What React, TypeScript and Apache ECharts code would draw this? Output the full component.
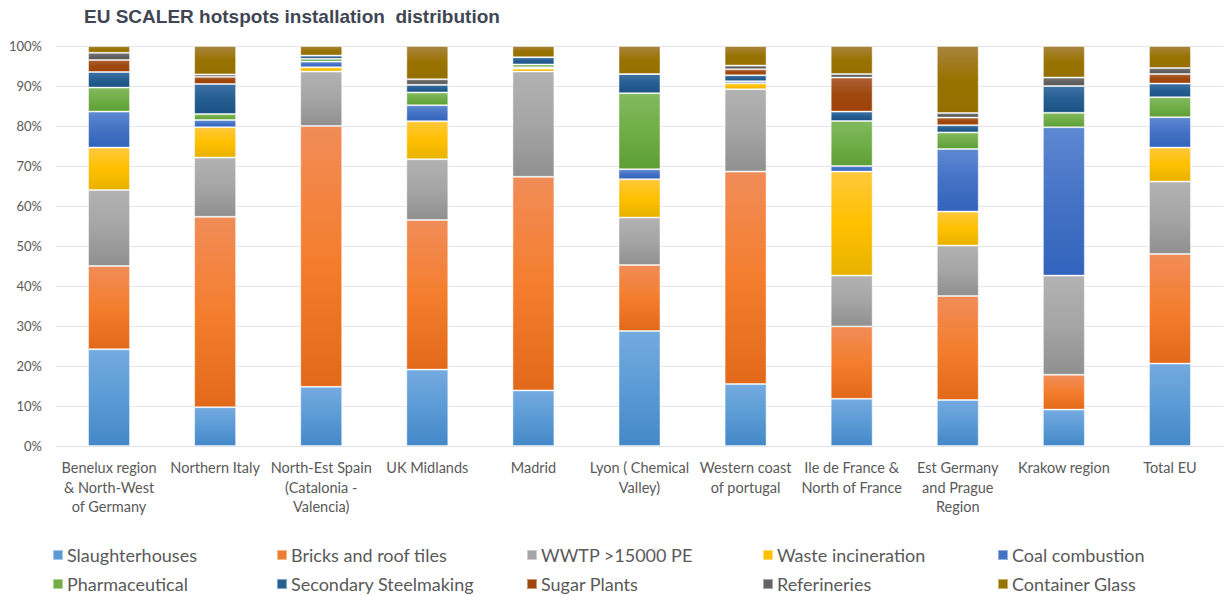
import React, { useEffect, useRef } from "react";
import * as echarts from "echarts";

const categories = [
  "Benelux region\n& North-West\nof Germany",
  "Northern Italy",
  "North-Est Spain\n(Catalonia -\nValencia)",
  "UK Midlands",
  "Madrid",
  "Lyon ( Chemical\nValley)",
  "Western coast\nof portugal",
  "Ile de France &\nNorth of France",
  "Est Germany\nand Prague\nRegion",
  "Krakow region",
  "Total EU",
];

const yTicks = [0, 10, 20, 30, 40, 50, 60, 70, 80, 90, 100];

const slaughterhouses = [24.2, 9.7, 14.8, 19.1, 13.9, 28.75, 15.5, 11.8, 11.5, 9.1, 20.6];
const bricksRoofTiles = [20.8, 47.6, 65.2, 37.4, 53.4, 16.5, 53.1, 18.1, 26.0, 8.7, 27.4];
const wwtp = [19.0, 14.8, 13.6, 15.2, 26.3, 11.85, 20.6, 12.7, 12.6, 24.8, 18.1];
const wasteIncineration = [10.6, 7.6, 1.1, 9.5, 0.8, 9.6, 1.5, 26.0, 8.5, 0, 8.5];
const coalCombustion = [9.0, 1.8, 1.4, 4.0, 0.3, 2.5, 0.5, 1.4, 15.65, 37.1, 7.6];
const pharmaceutical = [6.0, 1.5, 0.7, 3.2, 0.7, 19.0, 0, 11.25, 4.15, 3.6, 5.0];
const secondarySteelmaking = [3.9, 7.5, 0.8, 1.9, 1.8, 4.8, 1.5, 2.35, 1.8, 6.7, 3.4];
const sugarPlants = [3.0, 1.8, 0, 0, 0, 0, 1.5, 8.5, 1.9, 0, 2.4];
const refineries = [1.8, 0.6, 0, 1.4, 0, 0, 0.9, 0.9, 1.15, 2.1, 1.5];
const containerGlass = [1.7, 7.1, 2.4, 8.3, 2.8, 7.0, 4.9, 7.0, 16.75, 7.9, 5.5];

const seriesNames = [
  "Slaughterhouses",
  "Bricks and roof tiles",
  "WWTP >15000 PE",
  "Waste incineration",
  "Coal combustion",
  "Pharmaceutical",
  "Secondary Steelmaking",
  "Sugar Plants",
  "Referineries",
  "Container Glass",
];

const seriesValues = [
  slaughterhouses,
  bricksRoofTiles,
  wwtp,
  wasteIncineration,
  coalCombustion,
  pharmaceutical,
  secondarySteelmaking,
  sugarPlants,
  refineries,
  containerGlass,
];

// [top, middle, bottom, legend]
const palette = [
  ["#74aae0", "#5b9bd5", "#4488c8", "#5b9bd5"],
  ["#f18c58", "#f47e2e", "#e2691a", "#ed7d31"],
  ["#b2b2b2", "#a5a5a5", "#909090", "#a5a5a5"],
  ["#ffc83a", "#ffc000", "#e8b200", "#ffc000"],
  ["#5d88d2", "#4472c4", "#3264bd", "#4472c4"],
  ["#82b95e", "#70ad47", "#5e9f36", "#70ad47"],
  ["#3e71a3", "#255e91", "#1a5285", "#255e91"],
  ["#ad6035", "#9e480e", "#a0420a", "#9e480e"],
  ["#727272", "#636363", "#575757", "#636363"],
  ["#a8843e", "#997300", "#946f00", "#997300"],
];

const legendPos = [
  [52, 546], [276, 546], [526, 546], [762, 546], [997, 546],
  [52, 575], [276, 575], [526, 575], [762, 575], [997, 575],
];

export default function App() {
  const ref = useRef<HTMLDivElement>(null);
  useEffect(() => {
    if (!ref.current) return;
    const chart = echarts.init(ref.current, null, { renderer: "svg" });
    const series = seriesNames.map((name, i) => ({
      name,
      type: "bar",
      stack: "total",
      barWidth: 42,
      data: seriesValues[i],
      itemStyle: {
        color: new echarts.graphic.LinearGradient(0, 0, 0, 1, [
          { offset: 0, color: palette[i][0] },
          { offset: 0.5, color: palette[i][1] },
          { offset: 1, color: palette[i][2] },
        ]),
        borderColor: "rgba(255,255,255,0.45)",
        borderWidth: 1,
      },
    }));
    const legends = seriesNames.map((name, i) => ({
      left: legendPos[i][0],
      top: legendPos[i][1],
      orient: "horizontal",
      itemWidth: 10,
      itemHeight: 10,
      itemGap: 0,
      padding: 0,
      icon: "rect",
      selectedMode: false,
      textStyle: { color: "#595959", fontSize: 18, fontFamily: "Lato", padding: [0, 0, 0, -1] },
      data: [{ name, itemStyle: { color: palette[i][3] } }],
    }));
    chart.setOption({
      animation: false,
      backgroundColor: "#ffffff",
      title: {
        text: "EU SCALER hotspots installation  distribution",
        left: 84,
        top: 7,
        padding: 0,
        textStyle: {
          fontFamily: "Liberation Sans",
          fontWeight: "bold",
          fontSize: 19,
          color: "#404654",
        },
      },
      legend: legends,
      grid: { left: 56, right: 9, top: 46, bottom: 150, containLabel: false },
      xAxis: {
        type: "category",
        data: categories,
        axisLine: { show: true, lineStyle: { color: "#dfe3e8", width: 1 } },
        axisTick: { show: false },
        axisLabel: {
          interval: 0,
          color: "#595959",
          fontSize: 14.5,
          fontFamily: "Lato",
          lineHeight: 19.5,
          margin: 12,
        },
      },
      yAxis: {
        type: "value",
        min: yTicks[0],
        max: yTicks[yTicks.length - 1],
        interval: 10,
        axisLine: { show: false },
        axisTick: { show: false },
        axisLabel: {
          formatter: "{value}%",
          color: "#595959",
          fontSize: 13,
          fontFamily: "Lato",
          margin: 14,
        },
        splitLine: { lineStyle: { color: "#e3e6eb", width: 1 } },
      },
      series,
    });
    return () => chart.dispose();
  }, []);
  return <div ref={ref} style={{ width: 1232, height: 596, position: "absolute", left: 0, top: 0 }} />;
}
